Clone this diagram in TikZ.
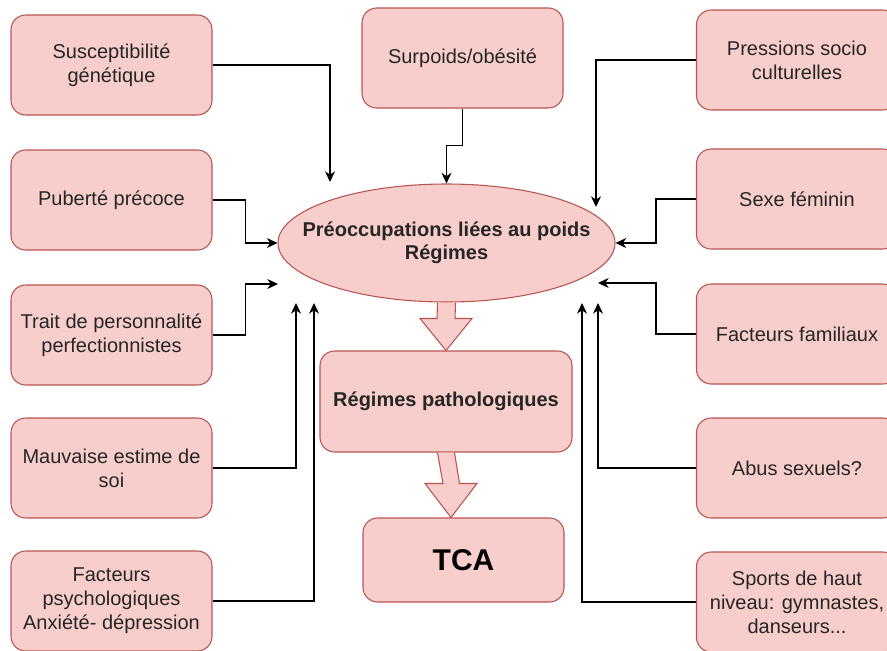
\documentclass[tikz,border=0pt]{standalone}
\usepackage{fontspec}
\setmainfont{Liberation Sans}
\usetikzlibrary{arrows.meta,calc,shapes.geometric}
\definecolor{boxfill}{HTML}{F8CECC}
\definecolor{boxline}{HTML}{B85450}
\definecolor{txt}{HTML}{262626}

\begin{document}
\begin{tikzpicture}
            [x=0.75pt, y=-0.75pt, >={Stealth[length=8pt,width=7.5pt,inset=2.5pt]},
             factor/.style={draw=boxline, fill=boxfill, line width=0.8pt, rounded corners=11pt,
                 minimum width=150.75pt, minimum height=75pt, inner sep=2pt, align=center,
                 text=txt, font=\fontsize{15}{18}\selectfont},
             conn/.style={->, line width=0.9pt, black},
             bigarrow/.style={draw=boxline, fill=boxfill, line width=0.8pt}]
            \useasboundingbox (0,0) rectangle (887,650);

            % causes on the left
            \node[factor] (gen) at (111.5, 65) {Susceptibilit\'e\\g\'en\'etique};
            \node[factor] (pub) at (111.5, 200) {Pubert\'e pr\'ecoce};
            \node[factor] (trait) at (111.5, 335) {Trait de personnalit\'e\\perfectionnistes};
            \node[factor] (estime) at (111.5, 468) {Mauvaise estime de\\soi};
            \node[factor] (psy) at (111.5, 601) {Facteurs\\psychologiques\\Anxi\'et\'e- d\'epression};

            % causes on the right
            \node[factor] (press) at (797, 60) {Pressions socio\\culturelles};
            \node[factor] (sexe) at (797, 199) {Sexe f\'eminin};
            \node[factor] (fam) at (797, 334) {Facteurs familiaux};
            \node[factor] (abus) at (797, 468) {Abus sexuels?};
            \node[factor] (sport) at (797, 602) {Sports de haut\\niveau: gymnastes,\\danseurs...};

            % middle column
            \node[factor] (obes) at (462.5, 58) {Surpoids/ob\'esit\'e};
            \node[factor, shape=ellipse, rounded corners=0pt, minimum width=252.75pt, minimum height=88.5pt,
                  inner xsep=-30pt, inner ysep=0pt, font=\fontsize{15}{17.5}\selectfont\bfseries] (poids) at (446.5, 243)
                  {Pr\'eoccupations li\'ees au poids\\R\'egimes};
            \node[factor, minimum width=189pt, minimum height=75.75pt, font=\fontsize{15}{18}\selectfont\bfseries]
                  (patho) at (446, 401.5) {R\'egimes pathologiques};
            \node[factor, minimum height=63pt, text=black, font=\fontsize{22.5}{26}\selectfont\bfseries]
                  (tca) at (463.5, 560) {TCA};

            % loose ends of the arrows
            \coordinate (genin) at (330, 182);
            \coordinate (pressin) at (596, 207);
            \coordinate (traitin) at (278, 284);
            \coordinate (famin) at (598, 283);
            \coordinate (estimein) at (296, 303);
            \coordinate (psyin) at (314, 303);
            \coordinate (abusin) at (598, 303);
            \coordinate (sportin) at (582, 303);

            \draw[conn] (gen.east) -| (genin);
            \draw[conn] (obes.south) -- ++(0, 37) -| (poids.north);
            \draw[conn] (press.west) -| (pressin);
            \draw[conn] (pub.east) -- ++(33, 0) |- (poids.west);
            \draw[conn] (sexe.west) -- ++(-40, 0) |- (poids.east);
            \draw[conn] (trait.east) -- ++(33, 0) |- (traitin);
            \draw[conn] (fam.west) -- ++(-40, 0) |- (famin);
            \draw[conn] (estime.east) -| (estimein);
            \draw[conn] (psy.east) -| (psyin);
            \draw[conn] (abus.west) -| (abusin);
            \draw[conn] (sport.west) -| (sportin);

            % big arrows down the middle
            \draw[bigarrow] ($(poids.south)+(-9, 0)$) -- ($(patho.north)+(-9, -32)$) -- ($(patho.north)+(-26, -32)$)
                -- (patho.north) -- ($(patho.north)+(26, -32)$) -- ($(patho.north)+(9, -32)$)
                -- ($(poids.south)+(9, 0)$);
            \draw[bigarrow] ($(patho.south)+(-8.5, 0)$) -- ($(tca.north)+(-20.5, -34)$) -- ($(tca.north)+(-38.5, -34)$)
                -- ($(tca.north)+(-12.5, 0)$) -- ($(tca.north)+(13.5, -34)$) -- ($(tca.north)+(-4, -34)$)
                -- ($(patho.south)+(8.5, 0)$);
        \end{tikzpicture}
\end{document}
